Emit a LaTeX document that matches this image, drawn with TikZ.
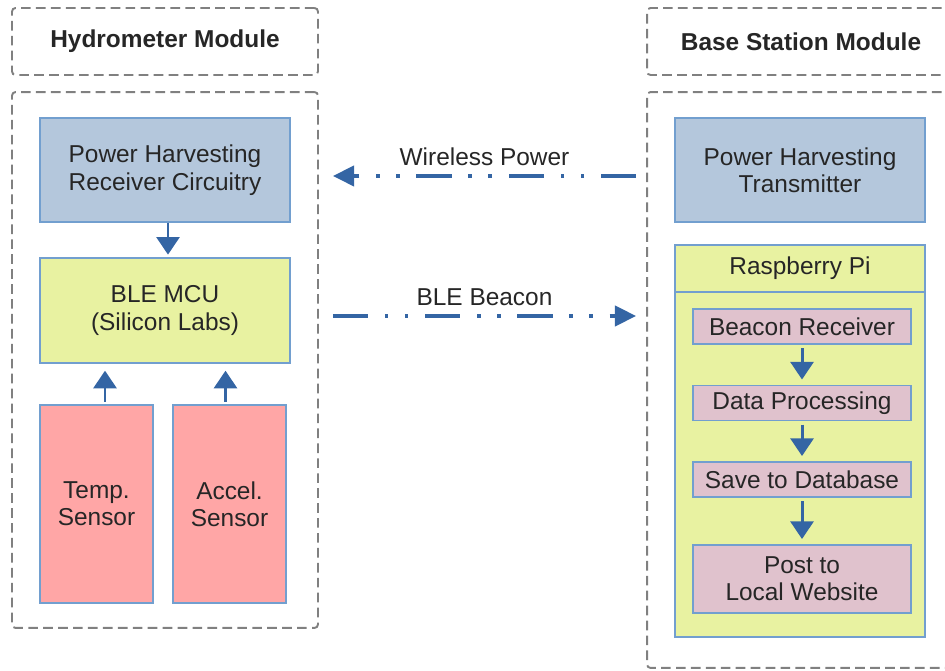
\documentclass[tikz,border=0pt]{standalone}
\usepackage{fontspec}
\setmainfont{Liberation Sans}
\usetikzlibrary{arrows.meta,positioning}

\definecolor{harvestBlue}{HTML}{B4C7DC}
\definecolor{edgeBlue}{HTML}{729FCF}
\definecolor{mcuLime}{HTML}{E8F2A1}
\definecolor{stepPink}{HTML}{E0C2CD}
\definecolor{sensorRed}{HTML}{FFA6A6}
\definecolor{flowBlue}{HTML}{3465A4}
\definecolor{panelGray}{HTML}{808080}

\begin{document}
\begin{tikzpicture}[
    x=0.02cm, y=-0.02cm,
    every node/.style={font=\fontsize{13.9}{15.6}\selectfont, text=black!85},
    panel/.style={draw=panelGray, dash pattern=on 5.5pt off 3pt, line width=1.1pt, rounded corners=2pt},
    module title/.style={panel, minimum height=1.34cm, font=\fontsize{13.9}{15.6}\selectfont\bfseries},
    block/.style={draw=edgeBlue, line width=0.8pt, align=center, inner sep=2pt},
    harvest/.style={block, fill=harvestBlue, minimum width=5cm, minimum height=2.08cm},
    mcu/.style={block, fill=mcuLime, minimum width=5cm, minimum height=2.1cm},
    sensor/.style={block, fill=sensorRed, minimum width=2.26cm, minimum height=3.96cm},
    pi step/.style={block, fill=stepPink, minimum width=4.36cm, minimum height=0.7cm},
    flow/.style={-{Triangle[length=10pt,width=13pt]}, line width=1.7pt, draw=flowBlue},
    radio/.style={-{Triangle[length=12pt,width=11.5pt]}, line width=1.8pt, draw=flowBlue,
      dash pattern=on 20pt off 9.5pt on 2pt off 9.5pt on 2pt off 9.5pt},
    radio label/.style={above=3pt, inner sep=2pt}
  ]
    \useasboundingbox (0,0) rectangle (945,671);
    \clip (0,0) rectangle (945,671);

    % Module titles and dashed outlines; the base station one runs off the page.
    \node[module title, minimum width=6.12cm] (hydroTitle) at (165,41.5) {Hydrometer Module};
    \node[panel, minimum width=6.12cm, minimum height=10.72cm] (hydroPanel) at (165,360) {};
    \node[module title, minimum width=6.26cm] (baseTitle) at (803.5,41.5) {\hspace*{-0.1cm}Base Station Module};
    \node[panel, minimum width=6.26cm, minimum height=11.52cm] (basePanel) at (803.5,380) {};

    % Hydrometer side
    \node[harvest] (powerRx) at (165,170) {Power Harvesting\\Receiver Circuitry};
    \node[mcu] (bleMcu) at (165,310.5) {BLE MCU\\(Silicon Labs)};
    \node[sensor] (tempSensor) at (96.5,504) {Temp.\\Sensor};
    \node[sensor] (accelSensor) at (229.5,504) {Accel.\\Sensor};

    % Base station side
    \node[harvest] (powerTx) at (800,170) {Power Harvesting\\Transmitter};
    \node[mcu, minimum height=7.84cm] (rpi) at (800,441) {};
    \node[mcu, minimum height=0.94cm, anchor=north] (rpiHeader) at (rpi.north) {Raspberry Pi};
    \node[pi step] (beaconRx) at (802,326.5) {Beacon Receiver};
    \node[pi step] (dataProc) at (802,403) {Data Processing};
    \node[pi step] (saveDb) at (802,479.5) {Save to Database};
    \node[pi step, minimum height=1.36cm] (postWeb) at (802,579) {Post to\\Local Website};

    \draw[flow, shorten >=1.5pt] ([xshift=0.06cm]powerRx.south) -- ([xshift=0.06cm]bleMcu.north);
    \draw[flow, shorten <=1.5pt] ([xshift=0.17cm]tempSensor.north) -- ([xshift=0.17cm, yshift=-0.14cm]tempSensor.north |- bleMcu.south);
    \draw[flow, shorten <=1.5pt] ([xshift=-0.08cm]accelSensor.north) -- ([xshift=-0.08cm, yshift=-0.14cm]accelSensor.north |- bleMcu.south);

    \draw[flow, shorten <=2pt, shorten >=3pt] (beaconRx) -- (dataProc);
    \draw[flow, shorten <=2pt, shorten >=3pt] (dataProc) -- (saveDb);
    \draw[flow, shorten <=2pt, shorten >=3pt] (saveDb) -- (postWeb);

    % Wireless links between the two modules
    \draw[radio] ([xshift=-0.2cm, yshift=-0.12cm]basePanel.west |- powerTx.west) -- node[radio label] {Wireless Power} ([xshift=0.28cm, yshift=-0.12cm]hydroPanel.east |- powerRx.east);
    \draw[radio] ([xshift=0.28cm, yshift=-0.11cm]hydroPanel.east |- bleMcu.east) -- node[radio label] {BLE Beacon} ([xshift=-0.2cm, yshift=-0.11cm]basePanel.west |- bleMcu.east);
  \end{tikzpicture}
\end{document}
